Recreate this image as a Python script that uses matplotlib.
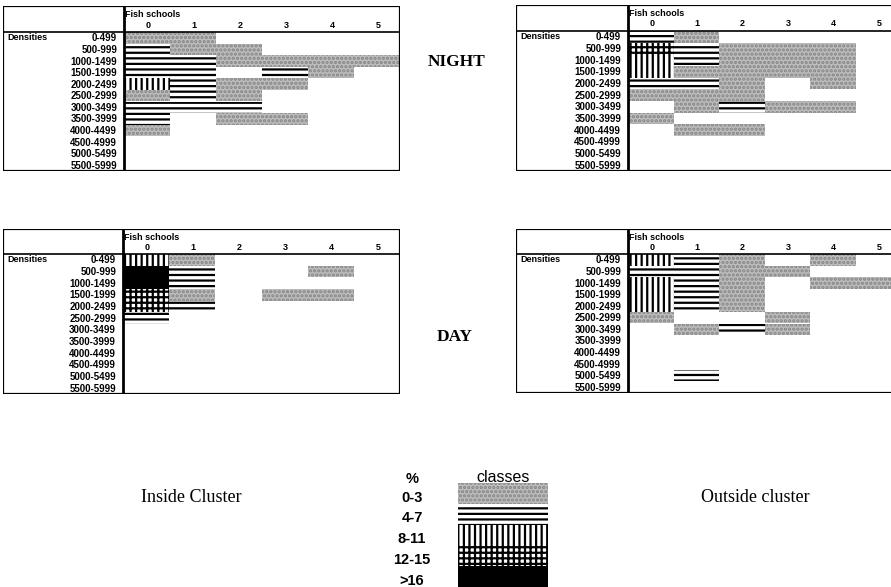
import matplotlib
matplotlib.use("Agg")
import matplotlib.pyplot as plt
from matplotlib.patches import Rectangle

plt.rcParams["hatch.linewidth"] = 1.6

# ---- data -------------------------------------------------------------
densities = ["0-499", "500-999", "1000-1499", "1500-1999", "2000-2499",
             "2500-2999", "3000-3499", "3500-3999", "4000-4499",
             "4500-4999", "5000-5499", "5500-5999"]
schools = ["0", "1", "2", "3", "4", "5"]

# percentage class per cell: 0 = none, 1 = 0-3, 2 = 4-7, 3 = 8-11, 4 = 12-15, 5 = >16
night_inside = [
    [1, 1, 0, 0, 0, 0],
    [2, 1, 1, 0, 0, 0],
    [2, 2, 1, 1, 1, 1],
    [2, 2, 0, 2, 1, 0],
    [3, 2, 1, 1, 0, 0],
    [1, 2, 1, 0, 0, 0],
    [2, 2, 2, 0, 0, 0],
    [2, 0, 1, 1, 0, 0],
    [1, 0, 0, 0, 0, 0],
    [0, 0, 0, 0, 0, 0],
    [0, 0, 0, 0, 0, 0],
    [0, 0, 0, 0, 0, 0],
]
night_outside = [
    [2, 1, 0, 0, 0, 0],
    [4, 2, 1, 1, 1, 0],
    [3, 2, 1, 1, 1, 0],
    [3, 1, 1, 1, 1, 0],
    [2, 2, 1, 0, 1, 0],
    [1, 1, 1, 0, 0, 0],
    [0, 1, 2, 1, 1, 0],
    [1, 0, 0, 0, 0, 0],
    [0, 1, 1, 0, 0, 0],
    [0, 0, 0, 0, 0, 0],
    [0, 0, 0, 0, 0, 0],
    [0, 0, 0, 0, 0, 0],
]
day_inside = [
    [3, 1, 0, 0, 0, 0],
    [5, 2, 0, 0, 1, 0],
    [5, 2, 0, 0, 0, 0],
    [4, 1, 0, 1, 1, 0],
    [4, 2, 0, 0, 0, 0],
    [2, 0, 0, 0, 0, 0],
    [0, 0, 0, 0, 0, 0],
    [0, 0, 0, 0, 0, 0],
    [0, 0, 0, 0, 0, 0],
    [0, 0, 0, 0, 0, 0],
    [0, 0, 0, 0, 0, 0],
    [0, 0, 0, 0, 0, 0],
]
day_outside = [
    [3, 2, 1, 0, 1, 0],
    [2, 2, 1, 1, 0, 0],
    [3, 2, 1, 0, 1, 1],
    [3, 2, 1, 0, 0, 0],
    [3, 2, 1, 0, 0, 0],
    [1, 0, 0, 1, 0, 0],
    [0, 1, 2, 1, 0, 0],
    [0, 0, 0, 0, 0, 0],
    [0, 0, 0, 0, 0, 0],
    [0, 0, 0, 0, 0, 0],
    [0, 2, 0, 0, 0, 0],
    [0, 0, 0, 0, 0, 0],
]

class_labels = ["0-3", "4-7", "8-11", "12-15", ">16"]
class_codes = [1, 2, 3, 4, 5]

# ---- fill styles for each class ---------------------------------------
STYLES = {
    1: dict(facecolor="#bdbdbd", hatch="....", edgecolor="#858585"),
    2: dict(facecolor="white", hatch="---", edgecolor="black"),
    3: dict(facecolor="white", hatch="|||", edgecolor="black"),
    4: dict(facecolor="white", hatch="+++", edgecolor="black"),
    5: dict(facecolor="black", hatch=None, edgecolor="black"),
}

W, H = 891, 587
fig = plt.figure(figsize=(W / 100, H / 100), dpi=100)
fig.patch.set_facecolor("white")

SANS = "Liberation Sans"
SERIF = "Liberation Serif"


def px_axes(left, top, right, bottom):
    return fig.add_axes([left / W, 1 - bottom / H, (right - left) / W, (bottom - top) / H])


def cell(ax, x, y, w, h, code):
    st = STYLES[code]
    ax.add_patch(Rectangle((x, y), w, h, facecolor=st["facecolor"],
                           hatch=st["hatch"], edgecolor=st["edgecolor"],
                           linewidth=0))


def draw_table(grid, left, divider, right, top, header, bottom):
    ax = px_axes(left, top, right, bottom)
    ncol = len(schools)
    nrow = len(densities)
    colw = (right - divider) / ncol
    rowh = (bottom - header) / nrow
    lab = (divider - left) / colw
    hdr = (header - top) / rowh
    ax.set_xlim(-lab, ncol)
    ax.set_ylim(nrow, -hdr)
    ax.axis("off")

    for r, row in enumerate(grid):
        for c, code in enumerate(row):
            if code:
                cell(ax, c, r, 1, 1, code)

    lw = dict(color="black", linewidth=1.6, solid_capstyle="butt")
    ax.plot([-lab, ncol], [-hdr, -hdr], **lw)
    ax.plot([-lab, ncol], [nrow, nrow], **lw)
    ax.plot([-lab, -lab], [-hdr, nrow], **lw)
    ax.plot([ncol, ncol], [-hdr, nrow], **lw)
    ax.plot([-lab, ncol], [0, 0], color="black", linewidth=1.2)
    ax.plot([0, 0], [-hdr, nrow], color="black", linewidth=2.0)

    ax.text(0.03, -hdr + 0.7, "Fish schools", fontsize=6.5, fontweight="bold",
            family=SANS, ha="left", va="center")
    for c, s in enumerate(schools):
        ax.text(c + 0.52, -0.6, s, fontsize=6.5, fontweight="bold",
                family=SANS, ha="center", va="center")
    ax.text(-lab + 0.1, 0.5, "Densities", fontsize=6.5, fontweight="bold",
            family=SANS, ha="left", va="center")
    for r, d in enumerate(densities):
        ax.text(-0.15, r + 0.55, d, fontsize=7, fontweight="bold",
                family=SANS, ha="right", va="center")
    return ax


draw_table(night_inside, 3, 124, 400, 6, 32, 171)
draw_table(night_outside, 516, 628, 901, 5, 31, 171)
draw_table(day_inside, 3, 123, 400, 229, 254, 394)
draw_table(day_outside, 516, 628, 901, 229, 254, 393)

# ---- legend ------------------------------------------------------------
lg = px_axes(458, 483, 548, 587)
lg.set_xlim(0, 1)
lg.set_ylim(len(class_codes), 0)
lg.axis("off")
for i, (code, label) in enumerate(zip(class_codes, class_labels)):
    cell(lg, 0, i, 1, 1, code)
    lg.text(-0.51, i + 0.7, label, fontsize=10.5, fontweight="bold",
            family=SANS, ha="center", va="center", clip_on=False)
lg.text(-0.51, -0.2, "%", fontsize=10.5, fontweight="bold", family=SANS,
        ha="center", va="center", clip_on=False)
lg.text(0.5, -0.25, "classes", fontsize=11.5, family=SANS,
        ha="center", va="center", clip_on=False)

# ---- titles ------------------------------------------------------------
fig.text(457 / W, 1 - 62 / H, "NIGHT", fontsize=12.5, fontweight="bold",
         family=SERIF, ha="center", va="center")
fig.text(455 / W, 1 - 337 / H, "DAY", fontsize=12.5, fontweight="bold",
         family=SERIF, ha="center", va="center")
fig.text(191 / W, 1 - 497 / H, "Inside Cluster", fontsize=13,
         family=SERIF, ha="center", va="center")
fig.text(755 / W, 1 - 497 / H, "Outside cluster", fontsize=13,
         family=SERIF, ha="center", va="center")

fig.savefig("out.png", dpi=100, facecolor="white")
